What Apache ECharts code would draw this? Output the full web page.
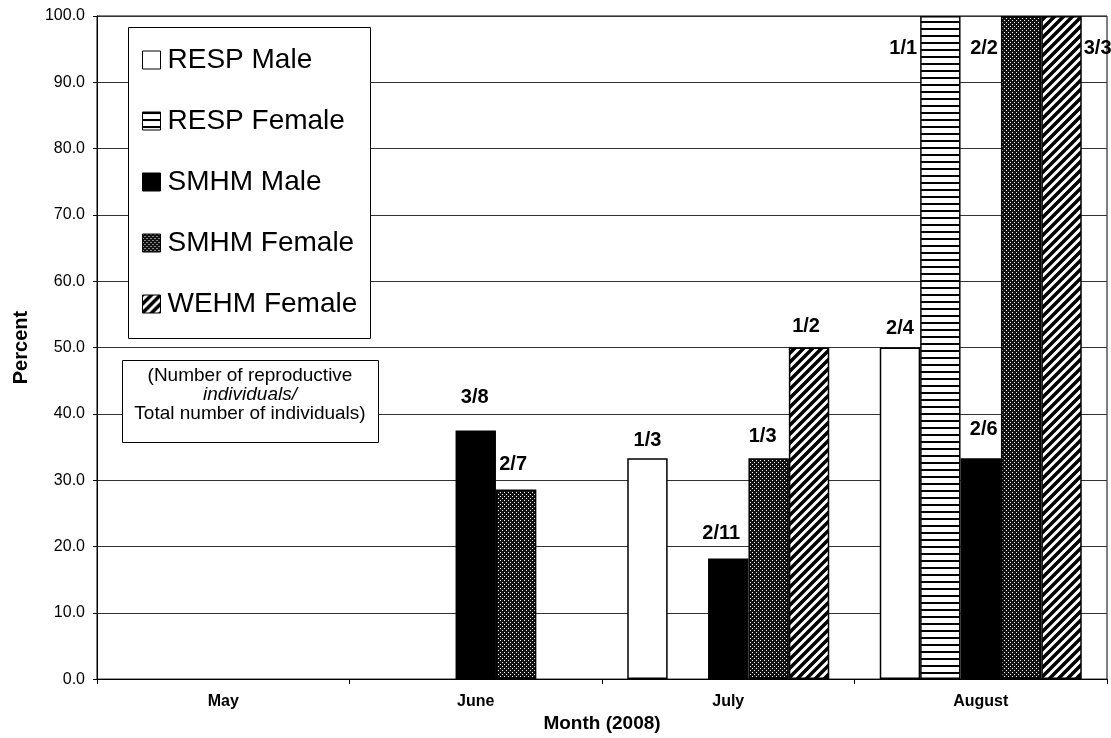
<!DOCTYPE html>
<html>
<head>
<meta charset="utf-8">
<title>Percent reproductive by month, 2008</title>
<script src="https://cdn.jsdelivr.net/npm/echarts@6.0.0/dist/echarts.min.js"></script>
<style>
  html, body { margin: 0; padding: 0; background: #fff; }
  #chart { width: 1111px; height: 738px; }
</style>
</head>
<body>
<div id="chart"></div>
<script>
// categories
var months = ['May', 'June', 'July', 'August'];

// percent reproductive (null = no bar)
var respMale   = [null, null, 33.3, 50.0];
var respFemale = [null, null, null, 100.0];
var smhmMale   = [null, 37.5, 18.2, 33.3];
var smhmFemale = [null, 28.6, 33.3, 100.0];
var wehmFemale = [null, null, 50.0, 100.0];

// number reproductive / total number, shown on the bars
var respMaleN   = ['', '', '1/3', '2/4'];
var respFemaleN = ['', '', '', '1/1'];
var smhmMaleN   = ['', '3/8', '2/11', '2/6'];
var smhmFemaleN = ['', '2/7', '1/3', '2/2'];
var wehmFemaleN = ['', '', '1/2', '3/3'];

var FONT = '"Liberation Sans", Arial, sans-serif';

// fill patterns, drawn on small canvas tiles
function makeTile(w, h, draw) {
  var c = document.createElement('canvas');
  c.width = w;
  c.height = h;
  var ctx = c.getContext('2d');
  ctx.fillStyle = '#fff';
  ctx.fillRect(0, 0, w, h);
  draw(ctx);
  return { image: c, repeat: 'repeat' };
}
var fillWhite = '#fff';
var fillStripes = makeTile(8, 7, function (ctx) {
  ctx.fillStyle = '#000';
  ctx.fillRect(0, 0, 8, 2);
});
var fillBlack = '#000';
var fillDots = makeTile(4, 4, function (ctx) {
  ctx.fillStyle = '#111';
  ctx.fillRect(0, 0, 4, 4);
  ctx.fillStyle = '#fff';
  ctx.fillRect(0, 0, 1, 1);
  ctx.fillRect(2, 2, 1, 1);
});
var fillHatch = makeTile(9, 9, function (ctx) {
  ctx.strokeStyle = '#000';
  ctx.lineWidth = 3.5;
  ctx.beginPath();
  ctx.moveTo(-3, 12); ctx.lineTo(12, -3);
  ctx.moveTo(-3, 3); ctx.lineTo(3, -3);
  ctx.moveTo(6, 12); ctx.lineTo(12, 6);
  ctx.stroke();
});

// label tweaks: [dx, gap from bar top to label centre]
var nudge = {
  'RESP Male|July': [0, 18],
  'RESP Male|August': [0, 19],
  'SMHM Male|June': [-1, 33],
  'SMHM Male|July': [-7, 25],
  'SMHM Male|August': [3, 29],
  'SMHM Female|June': [-3, 25],
  'SMHM Female|July': [-6, 22],
  'WEHM Female|July': [-3, 21]
};
// where the label goes when the bar reaches the top
var fullSide = { 'RESP Female': 'left', 'SMHM Female': 'left', 'WEHM Female': 'right' };

function buildData(name, values, labels) {
  return values.map(function (v, i) {
    if (v == null) return '-';
    var item = { value: v, label: { formatter: labels[i] } };
    if (v >= 100) {
      if (fullSide[name] == 'right') {
        item.label.position = ['100%', 32];
        item.label.align = 'left';
        item.label.offset = [2, 0];
      } else {
        item.label.position = [-3, 32];
        item.label.align = 'right';
      }
      item.label.verticalAlign = 'middle';
    } else {
      var n = nudge[name + '|' + months[i]] || [0, 21];
      item.label.offset = [n[0], 0];
      item.label.distance = n[1] - 10;
    }
    return item;
  });
}

function barSeries(name, values, labels, fill) {
  return {
    name: name,
    type: 'bar',
    barGap: '0%',
    barCategoryGap: '20%',
    itemStyle: { color: fill, borderColor: '#000', borderWidth: 1.5 },
    label: {
      show: true,
      position: 'top',
      fontFamily: FONT,
      fontSize: 20,
      fontWeight: 'bold',
      lineHeight: 20,
      color: '#000'
    },
    data: buildData(name, values, labels)
  };
}

var myChart = echarts.init(document.getElementById('chart'));

var option = {
  animation: false,
  backgroundColor: '#fff',
  textStyle: { fontFamily: FONT },
  grid: {
    left: 97,
    right: 4,
    top: 16,
    bottom: 55,
    show: true,
    borderColor: '#000',
    borderWidth: 1
  },
  legend: {
    orient: 'vertical',
    left: 142,
    top: 45,
    padding: 0,
    itemGap: 31,
    itemWidth: 18,
    itemHeight: 18,
    icon: 'rect',
    z: 6,
    itemStyle: { borderColor: '#000', borderWidth: 1 },
    textStyle: { fontFamily: FONT, fontSize: 28, color: '#000', lineHeight: 30, padding: [0, 0, 0, 2] },
    data: ['RESP Male', 'RESP Female', 'SMHM Male', 'SMHM Female', 'WEHM Female']
  },
  graphic: [
    {
      type: 'rect',
      z: 5,
      shape: { x: 128.5, y: 27.5, width: 242, height: 311 },
      style: { fill: '#fff', stroke: '#000', lineWidth: 1 }
    },
    {
      type: 'rect',
      z: 5,
      shape: { x: 122.5, y: 360.5, width: 256, height: 82 },
      style: { fill: '#fff', stroke: '#000', lineWidth: 1 }
    },
    {
      type: 'text', z: 6, x: 250, y: 376,
      style: { text: '(Number of reproductive', fill: '#000', fontFamily: FONT, fontSize: 19, align: 'center', verticalAlign: 'middle' }
    },
    {
      type: 'text', z: 6, x: 250, y: 395,
      style: { text: 'individuals/', fill: '#000', fontFamily: FONT, fontSize: 19, fontStyle: 'italic', align: 'center', verticalAlign: 'middle' }
    },
    {
      type: 'text', z: 6, x: 250, y: 414,
      style: { text: 'Total number of individuals)', fill: '#000', fontFamily: FONT, fontSize: 19, align: 'center', verticalAlign: 'middle' }
    }
  ],
  xAxis: {
    type: 'category',
    data: months,
    name: 'Month (2008)',
    nameLocation: 'middle',
    nameGap: 33,
    nameTextStyle: { fontFamily: FONT, fontSize: 19, fontWeight: 'bold', color: '#000' },
    axisLine: { lineStyle: { color: '#000', width: 1 } },
    axisTick: { show: true, length: 5, lineStyle: { color: '#000' } },
    axisLabel: { fontFamily: FONT, fontSize: 16, fontWeight: 'bold', color: '#000', margin: 14 }
  },
  yAxis: {
    type: 'value',
    min: 0,
    max: 100,
    interval: 10,
    name: 'Percent',
    nameLocation: 'middle',
    nameGap: 66,
    nameTextStyle: { fontFamily: FONT, fontSize: 20, fontWeight: 'bold', color: '#000' },
    axisLine: { show: true, lineStyle: { color: '#000', width: 1 } },
    axisTick: { show: true, length: 4, lineStyle: { color: '#000' } },
    axisLabel: {
      fontFamily: FONT,
      fontSize: 16,
      color: '#000',
      margin: 12,
      formatter: function (v) { return v.toFixed(1); }
    },
    splitLine: { lineStyle: { color: '#333', width: 1 } }
  },
  series: [
    barSeries('RESP Male', respMale, respMaleN, fillWhite),
    barSeries('RESP Female', respFemale, respFemaleN, fillStripes),
    barSeries('SMHM Male', smhmMale, smhmMaleN, fillBlack),
    barSeries('SMHM Female', smhmFemale, smhmFemaleN, fillDots),
    barSeries('WEHM Female', wehmFemale, wehmFemaleN, fillHatch)
  ]
};

myChart.setOption(option, true);
</script>
</body>
</html>
